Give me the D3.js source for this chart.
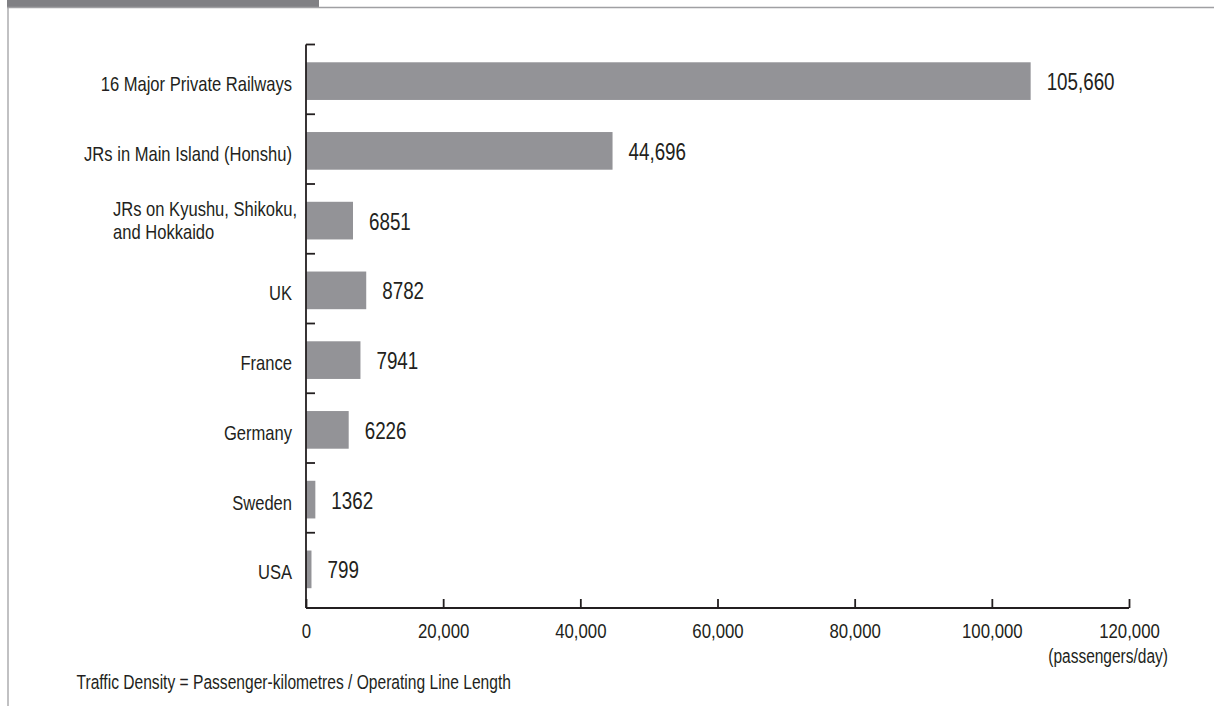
<!DOCTYPE html>
<html>
<head>
<meta charset="utf-8">
<script src="https://cdn.jsdelivr.net/npm/d3@7"></script>
<style>
  html, body { margin: 0; padding: 0; background: #fff; }
  svg { display: block; }
  text { font-family: "Liberation Sans", Arial, "Helvetica", sans-serif; fill: #231f20; }
</style>
</head>
<body>
<svg id="chart" width="1214" height="713"></svg>
<script>
// ---- data ----
const categories = [
  "16 Major Private Railways",
  "JRs in Main Island (Honshu)",
  "JRs on Kyushu, Shikoku,|and Hokkaido",
  "UK",
  "France",
  "Germany",
  "Sweden",
  "USA"
];
const values = [105660, 44696, 6851, 8782, 7941, 6226, 1362, 799];
const valueLabels = ["105,660", "44,696", "6851", "8782", "7941", "6226", "1362", "799"];
const xTicks = [0, 20000, 40000, 60000, 80000, 100000, 120000];
const xTickLabels = ["0", "20,000", "40,000", "60,000", "80,000", "100,000", "120,000"];
const unitLabel = "(passengers/day)";
const noteText = "Traffic Density = Passenger-kilometres / Operating Line Length";

// ---- layout ----
const svg = d3.select("#chart");
const W = 1214, H = 713;
const axisColor = "#231f20";
const barColor = "#939397";
const SX = 0.8; // condensed type

// condensed text helper
function ctext(parent, px, py, str, size, anchor) {
  return parent.append("text")
    .attr("transform", `translate(${px},${py}) scale(${SX},1)`)
    .attr("x", 0).attr("y", 0)
    .attr("text-anchor", anchor || "start")
    .attr("font-size", size)
    .text(str);
}

// frame
svg.append("rect").attr("x", 7).attr("y", 0).attr("width", 312).attr("height", 7).attr("fill", "#808084");
svg.append("line").attr("x1", 7).attr("x2", W).attr("y1", 7.5).attr("y2", 7.5).attr("stroke", "#a0a0a3").attr("stroke-width", 1.3);
svg.append("line").attr("x1", 8).attr("x2", 8).attr("y1", 7).attr("y2", 706).attr("stroke", "#a0a0a3").attr("stroke-width", 1.3);

const x = d3.scaleLinear().domain([0, 120000]).range([306, 1129]);
const y = d3.scaleBand().domain(categories).range([44.5, 602.5]).paddingInner(0).paddingOuter(0);
const step = y.step();
const axisBottomY = 608;

const g = svg.append("g");

// bars
g.selectAll("rect.bar").data(categories).join("rect")
  .attr("class", "bar")
  .attr("x", x(0))
  .attr("y", c => y(c) + step * 0.255)
  .attr("width", (c, i) => x(values[i]) - x(0))
  .attr("height", step * 0.54)
  .attr("fill", barColor);

// value labels
categories.forEach((c, i) => {
  ctext(g, x(values[i]) + 16, y(c) + step * 0.525 + 9, valueLabels[i], 23.5);
});

// y axis line + ticks (band boundaries)
const yAxis = svg.append("g");
yAxis.append("line")
  .attr("x1", x(0)).attr("x2", x(0))
  .attr("y1", y(categories[0])).attr("y2", axisBottomY)
  .attr("stroke", axisColor).attr("stroke-width", 1.8);
yAxis.selectAll("line.tick").data(categories).join("line")
  .attr("class", "tick")
  .attr("x1", x(0)).attr("x2", x(0) + 9)
  .attr("y1", c => y(c)).attr("y2", c => y(c))
  .attr("stroke", axisColor).attr("stroke-width", 1.8);

// category labels
categories.forEach((c, i) => {
  const parts = c.split("|");
  const cy = y(c) + step * 0.525;
  if (parts.length === 1) {
    ctext(yAxis, x(0) - 14, cy + 10, c, 20.7, "end");
  } else {
    const t1 = ctext(yAxis, x(0) - 9, cy - 5, parts[0], 20.7, "end");
    const w = t1.node().getComputedTextLength() * SX;
    ctext(yAxis, x(0) - 9 - w, cy + 18.5, parts[1], 20.7, "start");
  }
});

// x axis
const xAxisG = svg.append("g").attr("transform", `translate(0,${axisBottomY})`);
xAxisG.call(d3.axisBottom(x).tickValues(xTicks).tickSize(-9).tickPadding(0).tickFormat((d, i) => xTickLabels[i]));
xAxisG.attr("font-family", null).attr("font-size", null);
xAxisG.select(".domain").attr("d", `M${x(0)},0H${x(120000)}`).attr("stroke", axisColor).attr("stroke-width", 1.8);
xAxisG.selectAll(".tick line").attr("stroke", axisColor).attr("stroke-width", 1.8);
xAxisG.selectAll(".tick text")
  .attr("y", null).attr("dy", null)
  .attr("transform", `translate(0,30) scale(${SX},1)`)
  .attr("font-size", 21)
  .attr("fill", axisColor);

// unit label
ctext(svg, 1168, 663, unitLabel, 19.4, "end");

// note
ctext(svg, 76.5, 689, noteText, 19.5, "start");
</script>
</body>
</html>
